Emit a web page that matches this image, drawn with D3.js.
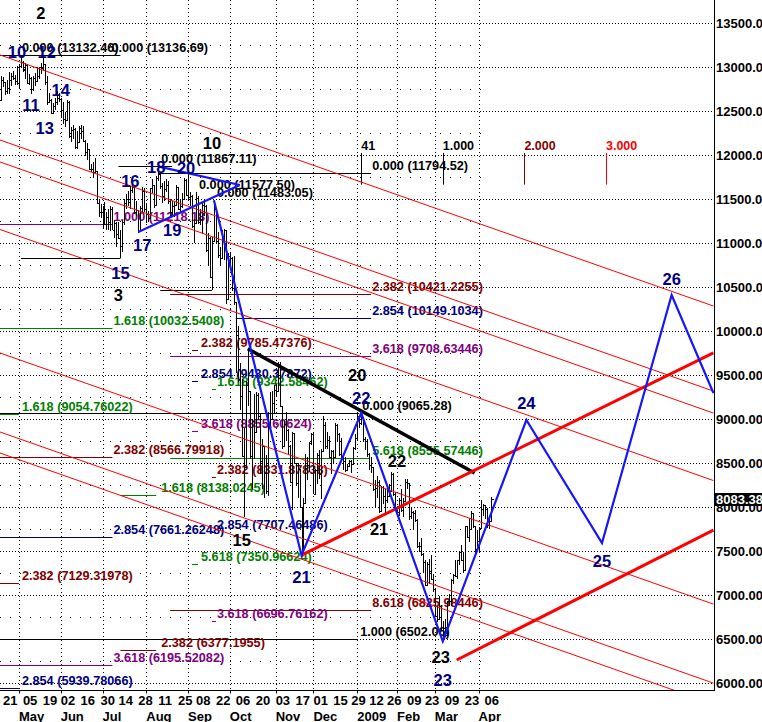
<!DOCTYPE html>
<html><head><meta charset="utf-8">
<script src="https://cdn.jsdelivr.net/npm/d3@7"></script>
<style>
html,body{margin:0;padding:0;background:#fff;}
svg{display:block;}
text{font-family:"Liberation Sans",Arial,sans-serif;}
</style></head>
<body><svg id="c" width="762" height="722"></svg>
<script>
// ---------------- DATA ----------------
const calendarStart = "2008-04-17", calendarEnd = "2009-10-01", indexOrigin = "2008-04-21";
const marketHolidays = ["2008-05-26","2008-07-04","2008-09-01","2008-11-27","2008-12-25","2009-01-01","2009-01-19","2009-02-16","2009-04-10","2009-05-25","2009-07-03","2009-09-07"];

// DJIA daily bars, 2008-04-17 .. 2009-04-09
const opens = [12617,12620,12848,12825,12721,12763,12849,12891,12871,12832,
12820,13011,13057,12968,13020,12814,12866,12745,12876,12832,
12898,12992,12986,13027,12828,12601,12625,12479,12548,12594,
12647,12638,12503,12402,12391,12603,12210,12280,12289,12084,
12141,12307,12269,12160,12029,12063,11843,11842,11807,11811,
11453,11346,11350,11382,11216,11288,11231,11384,11147,11229,
11100,11055,10963,11239,11446,11496,11467,11603,11632,11349,
11370,11132,11397,11584,11378,11326,11284,11616,11656,11431,
11734,11782,11642,11532,11615,11659,11479,11348,11417,11430,
11628,11386,11413,11502,11715,11543,11516,11532,11188,11220,
11511,11231,11268,11434,11421,10918,11059,10609,11019,11388,
11016,10855,10825,11022,11143,10365,10851,10831,10483,10325,
9955,9447,9258,8579,8451,9387,9311,8577,8979,8852,
9265,9033,8519,8691,8378,8175,9065,8991,9180,9325,
9319,9625,9139,8695,8943,8870,8694,8283,8836,8497,
8273,8425,7997,7552,8046,8443,8479,8727,8829,8149,
8419,8591,8376,8635,8934,8692,8761,8565,8629,8564,
8924,8824,8604,8579,8519,8419,8468,8515,8483,8668,
8776,9035,8953,9015,8769,8742,8600,8474,8448,8201,
8213,8281,7949,8229,8123,8077,8116,8175,8375,8149,
8001,7936,8078,7957,8063,8280,8270,7889,7939,7932,
7850,7553,7555,7466,7366,7115,7351,7271,7183,7063,
6763,6726,6876,6594,6627,6547,6926,6930,7170,7224,
7216,7395,7486,7400,7279,7776,7660,7750,7925,7776,
7523,7609,7762,7979,8018,7975,7789,7837];
const highs = [12680,12900,12880,12830,12850,12940,12930,12950,12910,13010,
13030,13137,13070,13040,13030,12920,12880,12890,12930,13000,
13000,13040,13132,13030,12900,12700,12630,12590,12640,12720,
12700,12640,12600,12480,12620,12605,12320,12340,12300,12270,
12330,12340,12330,12170,12130,12070,11900,11920,11960,11815,
11500,11440,11420,11460,11350,11380,11420,11410,11260,11230,
11240,11150,11260,11500,11550,11590,11650,11750,11640,11470,
11370,11420,11630,11620,11450,11360,11620,11720,11660,11760,
11867,11800,11680,11700,11720,11700,11500,11470,11460,11660,
11630,11480,11570,11730,11720,11790,11580,11540,11270,11580,
11530,11380,11450,11480,11425,11110,11060,11060,11483,11390,
11120,10950,11150,11160,11145,10880,10900,10835,10850,10330,
10050,9630,9450,8900,9430,9794,9320,9000,9280,9300,
9290,9050,8770,8695,8590,9080,9300,9320,9380,9400,
9650,9650,9145,8970,9080,8880,8700,8850,8840,8500,
8500,8430,8000,8100,8600,8560,8740,8835,8835,8430,
8610,8650,8660,9030,8960,8850,8800,8650,8640,8950,
8940,8840,8780,8600,8570,8490,8530,8530,8680,8830,
9050,9040,9065,9020,8790,8770,8610,8560,8450,8300,
8350,8300,8240,8235,8200,8240,8260,8390,8380,8170,
8010,8100,8200,8100,8320,8320,8275,7990,7950,7960,
7855,7600,7640,7470,7400,7370,7410,7450,7230,7070,
6870,6990,6880,6700,6720,6930,7010,7180,7240,7390,
7400,7500,7560,7480,7780,7780,7870,7950,7930,7780,
7730,7770,8080,8030,8025,7980,7900,8110];
const lows = [12560,12620,12770,12680,12690,12690,12780,12850,12790,12790,
12760,12990,12940,12860,12800,12790,12690,12720,12780,12830,
12860,12920,12950,12790,12570,12590,12460,12460,12510,12570,
12600,12420,12350,12320,12380,12190,12140,12180,12060,12070,
12140,12180,12150,11990,11940,11830,11800,11730,11790,11440,
11290,11280,11170,11200,11140,11150,11130,11140,11050,10950,
11040,10827,10900,11200,11380,11420,11380,11560,11330,11300,
11110,11130,11350,11350,11220,11230,11280,11560,11400,11420,
11700,11610,11450,11470,11580,11440,11300,11310,11290,11430,
11370,11350,11390,11500,11530,11480,11420,11170,11000,11220,
11210,11200,11100,11300,10900,10740,10600,10459,11020,11000,
10830,10750,10820,10800,10300,10360,10700,10450,10290,9525,
9420,9100,8560,7882,8450,9150,8540,8200,8540,8850,
8980,8370,8200,8100,8150,8120,8860,8980,9050,9250,
9300,9130,8660,8690,8750,8600,8270,7965,8480,8230,
8100,7990,7449,7460,8040,8300,8390,8700,8140,8140,
8260,8310,8090,8630,8660,8660,8550,8370,8480,8560,
8730,8580,8540,8420,8400,8410,8450,8380,8480,8650,
8760,8900,8930,8740,8650,8570,8420,8380,8180,7990,
8100,7930,7940,8030,7910,8040,8110,8170,8120,7980,
7880,7900,7940,7880,8050,8200,7850,7860,7730,7830,
7530,7480,7440,7250,7100,7100,7120,7170,7030,6760,
6690,6720,6590,6470,6517,6546,6870,6870,7120,7200,
7180,7340,7380,7250,7275,7640,7600,7740,7760,7470,
7520,7490,7760,7890,7860,7760,7750,7835];
const closes = [12620,12849,12825,12721,12763,12849,12891,12871,12832,12820,
13010,13058,12969,13020,12814,12866,12745,12876,12832,12898,
12992,12986,13028,12828,12601,12625,12479,12548,12594,12647,
12638,12503,12402,12391,12604,12210,12280,12289,12084,12141,
12307,12269,12160,12029,12063,11843,11842,11807,11811,11453,
11346,11350,11382,11216,11288,11231,11384,11147,11229,11100,
11055,10963,11239,11446,11496,11467,11603,11632,11349,11370,
11132,11397,11584,11378,11326,11284,11616,11656,11431,11734,
11782,11642,11532,11615,11659,11479,11348,11417,11430,11628,
11386,11413,11502,11715,11543,11516,11532,11188,11220,11511,
11231,11268,11434,11421,10918,11059,10609,11019,11388,11016,
10855,10825,11022,11143,10365,10851,10831,10483,10325,9955,
9447,9258,8579,8451,9387,9311,8577,8979,8852,9265,
9033,8519,8691,8378,8175,9065,8991,9180,9325,9319,
9625,9139,8695,8943,8870,8694,8283,8836,8497,8273,
8425,7997,7552,8046,8443,8479,8727,8829,8149,8419,
8591,8376,8635,8934,8692,8761,8565,8629,8564,8924,
8824,8604,8579,8519,8419,8468,8515,8483,8668,8776,
9035,8953,9015,8769,8742,8600,8474,8448,8201,8213,
8281,7949,8229,8123,8077,8116,8175,8375,8149,8001,
7936,8078,7957,8063,8280,8270,7889,7939,7932,7850,
7553,7555,7466,7366,7115,7351,7271,7183,7063,6763,
6726,6876,6594,6627,6547,6926,6930,7170,7224,7216,
7395,7486,7400,7279,7776,7660,7750,7925,7776,7523,
7609,7762,7979,8018,7975,7789,7837,8083];
const lastPrice = "8083.38";

// Axis ticks
const priceTicks = [6000,6500,7000,7500,8000,8500,9000,9500,10000,10500,11000,11500,12000,12500,13000,13500];
const priceMinorTicks = [6250,6750,7250,7750,8250,8750,9250,9750,10250,10750,11250,11750,12250,12750,13250];
const dayTicks = ["2008-04-21","2008-05-05","2008-05-19","2008-06-02","2008-06-16","2008-06-30","2008-07-14","2008-07-28","2008-08-11","2008-08-25","2008-09-08","2008-09-22","2008-10-06","2008-10-20","2008-11-03","2008-11-17","2008-12-01","2008-12-15","2008-12-29","2009-01-12","2009-01-26","2009-02-09","2009-02-23","2009-03-09","2009-03-23","2009-04-06"];
const monthNames = ["May","Jun","Jul","Aug","Sep","Oct","Nov","Dec","2009","Feb","Mar","Apr"];
const monthStarts = ["2008-05-01","2008-06-02","2008-07-01","2008-08-01","2008-09-02","2008-10-01","2008-11-03","2008-12-01","2009-01-02","2009-02-02","2009-03-02","2009-04-01"];

// Fibonacci price levels
const levelPrices = ["13132.46","13136.69","11867.11","11794.52","11577.50","11483.05","11218.18","10827.71","10459.44","10421.2255","10149.1034","10032.5408","9785.47376","9708.63446","9430.37872","9342.58462","9065.28","9054.76022","8855.60624","8566.79918","8555.57446","8331.87838","8138.0245","7707.46486","7661.26248","7350.96624","7129.31978","6825.98446","6696.76162","6502.06","6377.1955","6195.52082","5939.78066"];
const levelRatios = ["0.000","0.000","0.000","0.000","0.000","0.000","1.000","","","2.382","2.854","1.618","2.382","3.618","2.854","1.618","0.000","1.618","3.618","2.382","5.618","2.382","1.618","2.854","2.854","5.618","2.382","8.618","3.618","1.000","2.382","3.618","2.854"];
const levelTools = ["k","k","k","k","k","k","p","k","k","r","n","g","r","p","n","g","k","g","p","r","g","r","g","n","n","g","r","r","p","k","r","p","n"];
const levelFrom = ["2008-04-17",null,"2008-07-14","2008-08-11",null,null,"2008-04-17","2008-05-02","2008-08-12","2008-08-19","2008-10-06","2008-04-17","2008-09-04","2008-08-19","2008-09-04","2008-09-18","2008-04-17","2008-04-17","2008-09-04","2008-04-17","2008-08-19","2008-09-18","2008-07-15","2008-09-18","2008-04-17","2008-09-04","2008-04-17","2008-08-19","2008-09-18","2008-04-17","2008-07-15","2008-04-17","2008-04-17"];
const levelTo = ["2008-07-15",null,"2008-08-20","2009-01-13",null,null,"2008-07-09","2008-07-15","2008-09-18","2009-01-13","2009-01-13","2008-07-09","2008-09-09","2009-01-13","2008-09-09","2008-09-22","2009-01-05","2008-05-01","2008-09-09","2008-07-09","2009-01-12","2008-09-22","2008-08-08","2008-09-22","2008-07-09","2008-09-09","2008-05-01","2009-01-13","2008-09-22","2009-01-02","2008-08-08","2008-07-09","2008-05-01"];
const levelLabelAt = ["2008-05-02","2008-07-08","2008-08-12","2009-01-13","2008-09-09","2008-09-22","2008-07-09",null,null,"2009-01-13","2009-01-13","2008-07-09","2008-09-10","2009-01-13","2008-09-10","2008-09-22","2009-01-06","2008-05-02","2008-09-10","2008-07-09","2009-01-13","2008-09-22","2008-08-12","2008-09-22","2008-07-09","2008-09-10","2008-05-02","2009-01-13","2008-09-22","2009-01-05","2008-08-12","2008-07-09","2008-05-02"];

// Red parallel channel lines (value at start / end date)
const channelStart = "2008-04-17", channelEnd = "2009-09-18";
const channelStartValues = [13137,12171,11921,11154,9751,8853,8614];
const channelEndValues = [10280,9314,9064,8297,6893,5995,5757];

// Thick rising red lines
const supportFrom = ["2008-11-20","2009-03-17"], supportFromValue = [7449.38,6258];
const supportTo = ["2009-09-18","2009-09-18"], supportToValue = [9747,7735];

// Thick black resistance line
const resistDates = ["2008-10-14","2009-03-30"], resistValues = [9794.37,8383];

// Blue wave path (actual + projection)
const waveDates = ["2008-09-19","2008-11-20","2009-01-06","2009-03-06","2009-05-06","2009-06-30","2009-08-19","2009-09-18"];
const waveValues = [11483.05,7449.38,9065.28,6469.95,8985,7587,10405,9292];

// Blue triangle lines
const triDates = [["2008-08-11","2008-10-08"],["2008-07-28","2008-10-08"]];
const triValues = [[11867.11,11656],[11122,11656]];

// Time cycle markers
const timeLabels = ["41","1.000","2.000","3.000"];
const timeDates = ["2009-01-06","2009-03-06","2009-05-05","2009-07-02"];
const timeTools = ["k","k","r","R"];
const timeTop = 12020, timeBottom = 11660;

// Wave count labels
const waveLabelText = ["2","10","12","11","13","14","16","18","20","10","17","19","15","3","20","22","22","15","21","21","23","23","24","25","26"];
const waveLabelDates = ["2008-05-16","2008-04-30","2008-05-21","2008-05-09","2008-05-20","2008-06-02","2008-07-22","2008-08-08","2008-08-29","2008-09-18","2008-07-30","2008-08-20","2008-07-15","2008-07-14","2009-01-02","2009-01-06","2009-02-02","2008-10-09","2008-11-20","2009-01-20","2009-03-05","2009-03-06","2009-05-06","2009-06-30","2009-08-19"];
const waveLabelValues = [13610,13167,13167,12565,12303,12735,11701,11860,11849,12133,10974,11144,10656,10406,9497,9235,8519,7622,7201,7747,6292,6031,9178,7383,10588];
const waveLabelTools = ["k","n","n","n","n","n","n","n","n","k","n","n","n","k","k","n","k","k","n","k","k","n","n","n","n"];

// ---------------- CHART ----------------
const colors = {k:"#000000", g:"#008000", r:"#800000", n:"#000080", p:"#800080", R:"#ff0000"};
const plotR = 714, plotB = 690.5;
const svg = d3.select("#c");
const x = d3.scaleLinear().domain([0, 245]).range([3, 3 + 1.99 * 245]);
const y = d3.scaleLinear().domain([6000, 13500]).range([682.7, 22.7]);

const parseD = d3.timeParse("%Y-%m-%d"), fmtD = d3.timeFormat("%Y-%m-%d");
const holidaySet = new Set(marketHolidays);
const calendar = d3.timeDay.range(parseD(calendarStart), parseD(calendarEnd))
  .filter(d => { const w = d.getDay(); return w > 0 && w < 6 && !holidaySet.has(fmtD(d)); });
const origin = calendar.findIndex(d => fmtD(d) === indexOrigin);
const dayIndex = new Map(calendar.map((d, i) => [fmtD(d), i - origin]));
function xd(s) {
  let d = parseD(s);
  for (let k = 0; k < 7; k++) { const key = fmtD(d); if (dayIndex.has(key)) return x(dayIndex.get(key)); d = d3.timeDay.offset(d, 1); }
  return NaN;
}
const bars = closes.map((c, i) => ({ date: fmtD(calendar[i]), o: opens[i], h: highs[i], l: lows[i], c: c }));

svg.append("rect").attr("width", 762).attr("height", 722).attr("fill", "#fff");
svg.append("defs").append("clipPath").attr("id", "clip").append("rect").attr("x", 0).attr("y", 0).attr("width", plotR).attr("height", plotB);
const g = svg.append("g").attr("clip-path", "url(#clip)");
const crisp = v => Math.round(v) + 0.5;

// grid
g.selectAll(".hg").data(priceTicks).join("line")
  .attr("x1", 0).attr("x2", plotR).attr("y1", d => crisp(y(d))).attr("y2", d => crisp(y(d)))
  .attr("stroke", "#000").attr("stroke-dasharray", "1,2");
g.selectAll(".hm").data(priceMinorTicks).join("line")
  .attr("x1", 0).attr("x2", xd("2009-04-07")).attr("y1", d => crisp(y(d))).attr("y2", d => crisp(y(d)))
  .attr("stroke", "#000").attr("stroke-dasharray", "1,9");
g.selectAll(".vg").data(monthStarts).join("line")
  .attr("x1", d => crisp(xd(d))).attr("x2", d => crisp(xd(d))).attr("y1", 0).attr("y2", plotB)
  .attr("stroke", "#000").attr("stroke-dasharray", "1,3");

// fib levels
const levels = levelPrices.map((p, i) => ({ v: +p, text: levelRatios[i] ? `${levelRatios[i]} (${p})` : "", col: colors[levelTools[i]], from: levelFrom[i], to: levelTo[i], at: levelLabelAt[i] }));
g.selectAll(".lv").data(levels.filter(d => d.from)).join("line")
  .attr("x1", d => xd(d.from)).attr("x2", d => xd(d.to))
  .attr("y1", d => crisp(y(d.v))).attr("y2", d => crisp(y(d.v)))
  .attr("stroke", d => d.col).attr("stroke-width", 1);
g.selectAll(".lt").data(levels.filter(d => d.at)).join("text")
  .attr("x", d => xd(d.at) + 1).attr("y", d => y(d.v) - 3)
  .attr("fill", d => d.col).attr("font-size", 12.7).attr("font-weight", "bold").text(d => d.text);

// time markers
const tm = timeLabels.map((t, i) => ({ t, x: xd(timeDates[i]), col: colors[timeTools[i]] }));
g.selectAll(".tmL").data(tm).join("line")
  .attr("x1", d => crisp(d.x)).attr("x2", d => crisp(d.x)).attr("y1", y(timeTop)).attr("y2", y(timeBottom))
  .attr("stroke", d => d.col);
g.selectAll(".tmT").data(tm).join("text")
  .attr("x", d => d.x).attr("y", y(timeTop) - 3).attr("fill", d => d.col)
  .attr("font-size", 12.5).attr("font-weight", "bold").text(d => d.t);

// price bars
const bg = g.append("g").attr("stroke", "#000").attr("stroke-width", 1).attr("shape-rendering", "crispEdges");
bg.selectAll("path").data(bars).join("path")
  .attr("fill", "none")
  .attr("d", d => {
    const xx = Math.round(xd(d.date)) + 0.5;
    return `M${xx},${y(d.h)}V${y(d.l)}M${xx - 2},${Math.round(y(d.o)) + 0.5}H${xx}M${xx},${Math.round(y(d.c)) + 0.5}H${xx + 2}`;
  });

// red channel lines
g.selectAll(".ch").data(channelStartValues).join("line")
  .attr("x1", xd(channelStart)).attr("y1", d => y(d))
  .attr("x2", xd(channelEnd)).attr("y2", (d, i) => y(channelEndValues[i]))
  .attr("stroke", "#ff0000").attr("stroke-width", 1);

// blue triangle
g.selectAll(".tri").data(triDates).join("line")
  .attr("x1", d => xd(d[0])).attr("x2", d => xd(d[1]))
  .attr("y1", (d, i) => y(triValues[i][0])).attr("y2", (d, i) => y(triValues[i][1]))
  .attr("stroke", "#1515ff").attr("stroke-width", 2.2);

// black thick line
g.append("line")
  .attr("x1", xd(resistDates[0])).attr("y1", y(resistValues[0]))
  .attr("x2", xd(resistDates[1])).attr("y2", y(resistValues[1]))
  .attr("stroke", "#000").attr("stroke-width", 3.5);

// thick red support lines
g.selectAll(".sup").data(supportFrom).join("line")
  .attr("x1", d => xd(d)).attr("y1", (d, i) => y(supportFromValue[i]))
  .attr("x2", (d, i) => xd(supportTo[i])).attr("y2", (d, i) => y(supportToValue[i]))
  .attr("stroke", "#ff0000").attr("stroke-width", 3);

// blue wave path
const wave = waveDates.map((d, i) => [xd(d), y(waveValues[i])]);
g.append("path").attr("d", d3.line()(wave)).attr("fill", "none")
  .attr("stroke", "#1515ff").attr("stroke-width", 2.2).attr("stroke-linejoin", "miter");

// wave labels
g.selectAll(".wl").data(waveLabelText).join("text")
  .attr("x", (d, i) => xd(waveLabelDates[i])).attr("y", (d, i) => y(waveLabelValues[i]) + 6)
  .attr("text-anchor", "middle").attr("font-size", 16.5).attr("font-weight", "bold")
  .attr("fill", (d, i) => colors[waveLabelTools[i]]).text(d => d);

// axes
svg.append("line").attr("x1", plotR + 0.5).attr("x2", plotR + 0.5).attr("y1", 0).attr("y2", plotB).attr("stroke", "#000");
svg.append("line").attr("x1", 0).attr("x2", plotR + 1).attr("y1", plotB).attr("y2", plotB).attr("stroke", "#000");
svg.selectAll(".yl").data(priceTicks).join("text")
  .attr("x", 716).attr("y", d => y(d) + 5).attr("font-size", 13).attr("font-weight", "bold")
  .text(d => d3.format(".2f")(d));
svg.append("rect").attr("x", 715).attr("y", Math.round(y(+lastPrice)) - 6).attr("width", 47).attr("height", 13).attr("fill", "#000");
svg.append("text").attr("x", 716).attr("y", y(+lastPrice) + 5).attr("font-size", 13).attr("font-weight", "bold").attr("fill", "#fff").text(lastPrice);

svg.selectAll(".mt").data(monthStarts).join("line")
  .attr("x1", d => crisp(xd(d))).attr("x2", d => crisp(xd(d))).attr("y1", plotB).attr("y2", plotB + 3).attr("stroke", "#000");
svg.selectAll(".dl").data(dayTicks).join("text")
  .attr("x", d => xd(d)).attr("y", 705).attr("font-size", 13).attr("font-weight", "bold")
  .text(d => d3.timeFormat("%d")(parseD(d)));
svg.selectAll(".ml").data(monthNames).join("text")
  .attr("x", (d, i) => xd(monthStarts[i])).attr("y", 721).attr("font-size", 13).attr("font-weight", "bold")
  .text(d => d);
</script></body></html>
